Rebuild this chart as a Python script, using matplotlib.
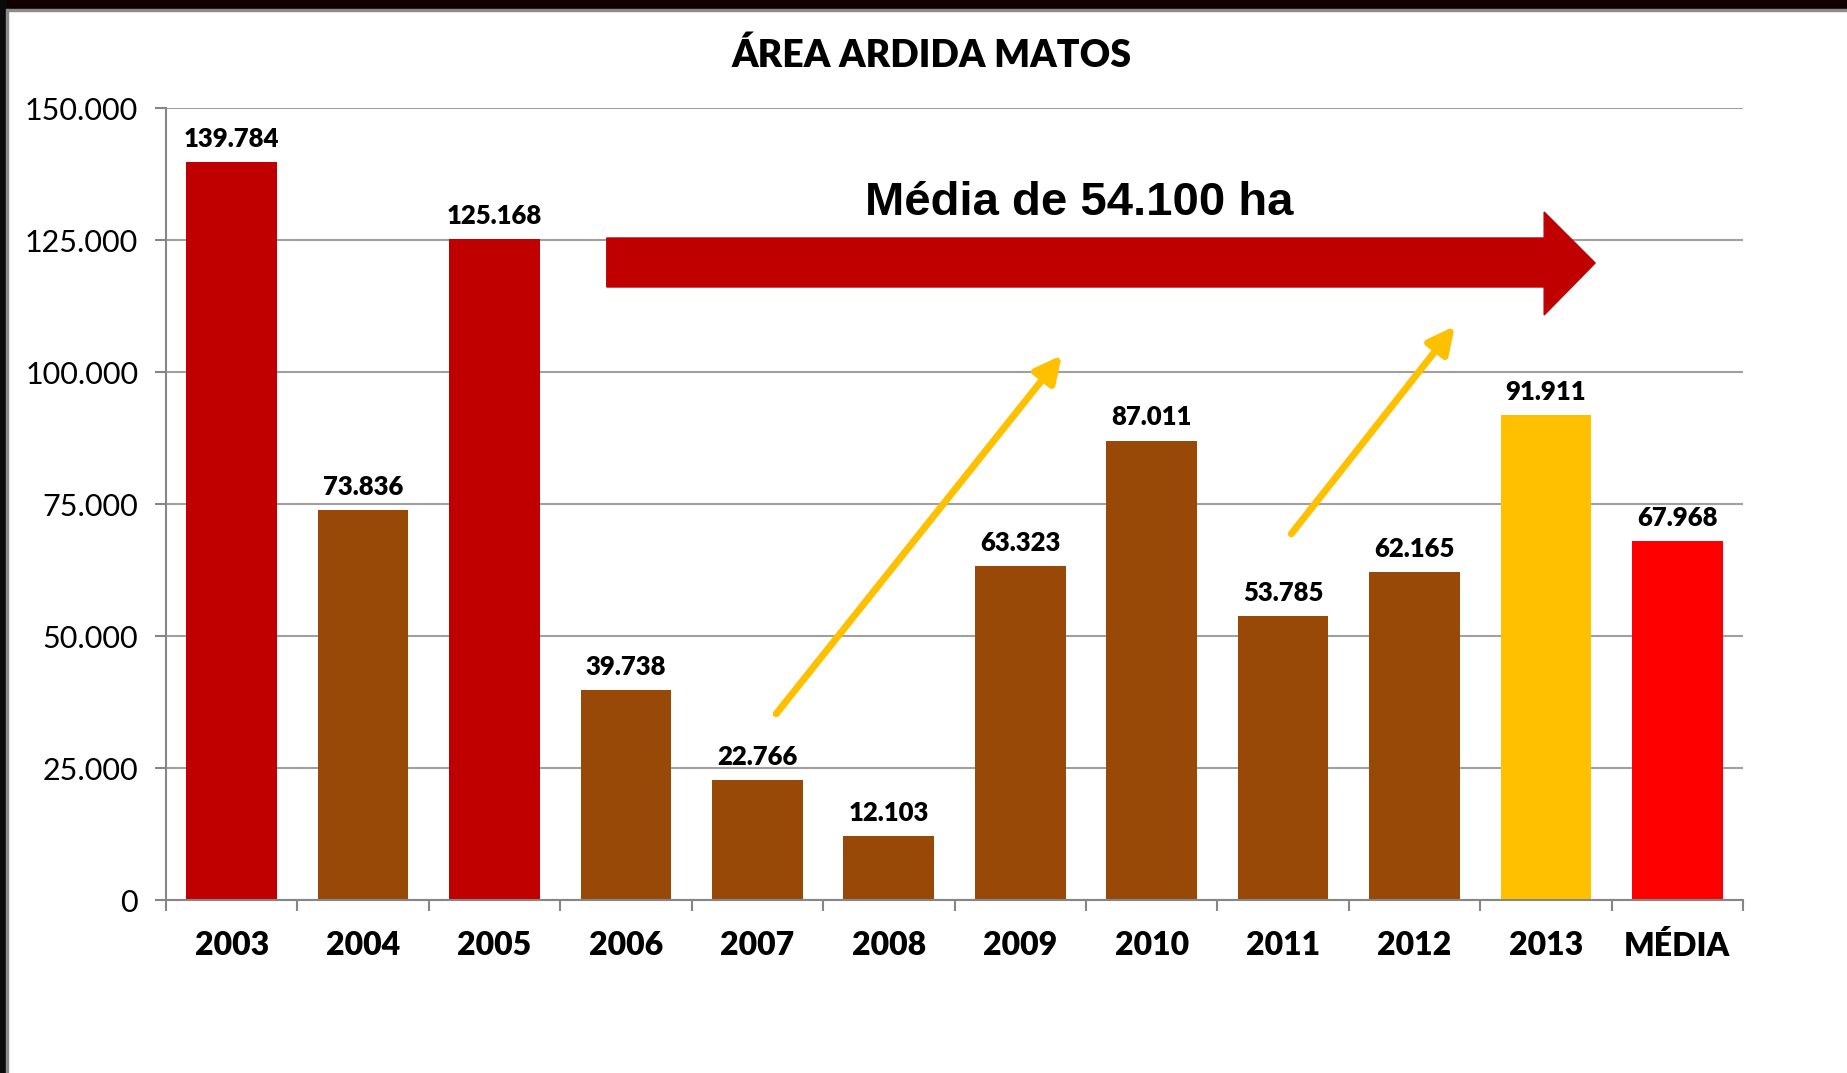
import matplotlib
matplotlib.use('Agg')
import matplotlib.pyplot as plt
from matplotlib.patches import Polygon, Rectangle

# DADOS - AREA ARDIDA DE MATOS (ha)
anos = ['2003', '2004', '2005', '2006', '2007', '2008', '2009', '2010', '2011', '2012', '2013', 'MÉDIA']
area = [139784, 73836, 125168, 39738, 22766, 12103, 63323, 87011, 53785, 62165, 91911, 67968]
cores = ['#C00000', '#984807', '#C00000', '#984807', '#984807', '#984807',
         '#984807', '#984807', '#984807', '#984807', '#FFC000', '#FF0000']
rotulos = ['139.784', '73.836', '125.168', '39.738', '22.766', '12.103',
           '63.323', '87.011', '53.785', '62.165', '91.911', '67.968']
yticks = [0, 25000, 50000, 75000, 100000, 125000, 150000]
ylabels = ['0', '25.000', '50.000', '75.000', '100.000', '125.000', '150.000']
titulo = 'ÁREA ARDIDA MATOS'
texto_media = 'Média de 54.100 ha'

W, H = 1847, 1073
fig = plt.figure(figsize=(W / 100, H / 100), dpi=100)
fig.patch.set_facecolor('white')

# moldura (faixa preta em cima e a esquerda)
fig.patches.append(Rectangle((0, 1 - 9 / H), 1, 9 / H, transform=fig.transFigure, color='#100000', zorder=0))
fig.patches.append(Rectangle((0, 1 - 11 / H), 1, 2 / H, transform=fig.transFigure, color='#8a8a8a', zorder=0))
fig.patches.append(Rectangle((0, 0), 6 / W, 1, transform=fig.transFigure, color='#0a0a0a', zorder=0))
fig.patches.append(Rectangle((6 / W, 0), 2 / W, 1 - 9 / H, transform=fig.transFigure, color='#8a8a8a', zorder=0))

ax = fig.add_axes([166 / W, 1 - 900 / H, (1743 - 166) / W, (900 - 108) / H])
x = list(range(len(anos)))
ax.bar(x, area, width=0.69, color=cores, zorder=3)

ax.set_xlim(-0.5, len(anos) - 0.5)
ax.set_ylim(0, 150000)
ax.set_yticks(yticks)
ax.set_yticklabels(ylabels, fontfamily='Lato', fontsize=22)
ax.set_xticks(x)
ax.set_xticklabels(anos, fontfamily='Lato', fontsize=23, fontweight='heavy')
ax.set_xticks([i - 0.5 for i in range(len(anos) + 1)], minor=True)
ax.tick_params(axis='x', which='major', length=0, pad=22)
ax.tick_params(axis='x', which='minor', length=8, width=1.5, color='#868686')
ax.tick_params(axis='y', length=8, width=1.5, color='#868686', pad=12)

ax.grid(axis='y', color='#a0a0a0', linewidth=1.5, zorder=0)
for s in ['top', 'right']:
    ax.spines[s].set_visible(False)
for s in ['left', 'bottom']:
    ax.spines[s].set_color('#868686')
    ax.spines[s].set_linewidth(1.5)
ax.spines['bottom'].set_zorder(4)

# rotulos dos valores
for i in range(len(anos)):
    ax.annotate(rotulos[i], (x[i], area[i]), xytext=(0, 8), textcoords='offset points',
                ha='center', va='bottom', fontfamily='Lato', fontsize=18.5, fontweight='heavy')

fig.text(932 / W, 1 - 55 / H, titulo, ha='center', va='center', fontfamily='Lato',
         fontsize=27, fontweight='heavy')

# seta vermelha (media)
seta = [(2.854, 116100), (2.854, 125380), (9.987, 125380), (9.987, 130300),
        (10.375, 120640), (9.987, 110800), (9.987, 116100)]
ax.add_patch(Polygon(seta, closed=True, color='#C00000', zorder=5, clip_on=False))
ax.text(6.45, 132000, texto_media, ha='center', va='center', fontfamily='Liberation Sans',
        fontsize=34, fontweight='bold', zorder=6)

# setas amarelas (tendencia)
ax.annotate('', xy=(6.33, 103600), xytext=(4.13, 34850),
            arrowprops=dict(arrowstyle='-|>', lw=5, color='#FFC000', mutation_scale=40), zorder=6)
ax.annotate('', xy=(9.32, 109100), xytext=(8.05, 68940),
            arrowprops=dict(arrowstyle='-|>', lw=5, color='#FFC000', mutation_scale=40), zorder=6)

fig.savefig('out.png', dpi=100)
